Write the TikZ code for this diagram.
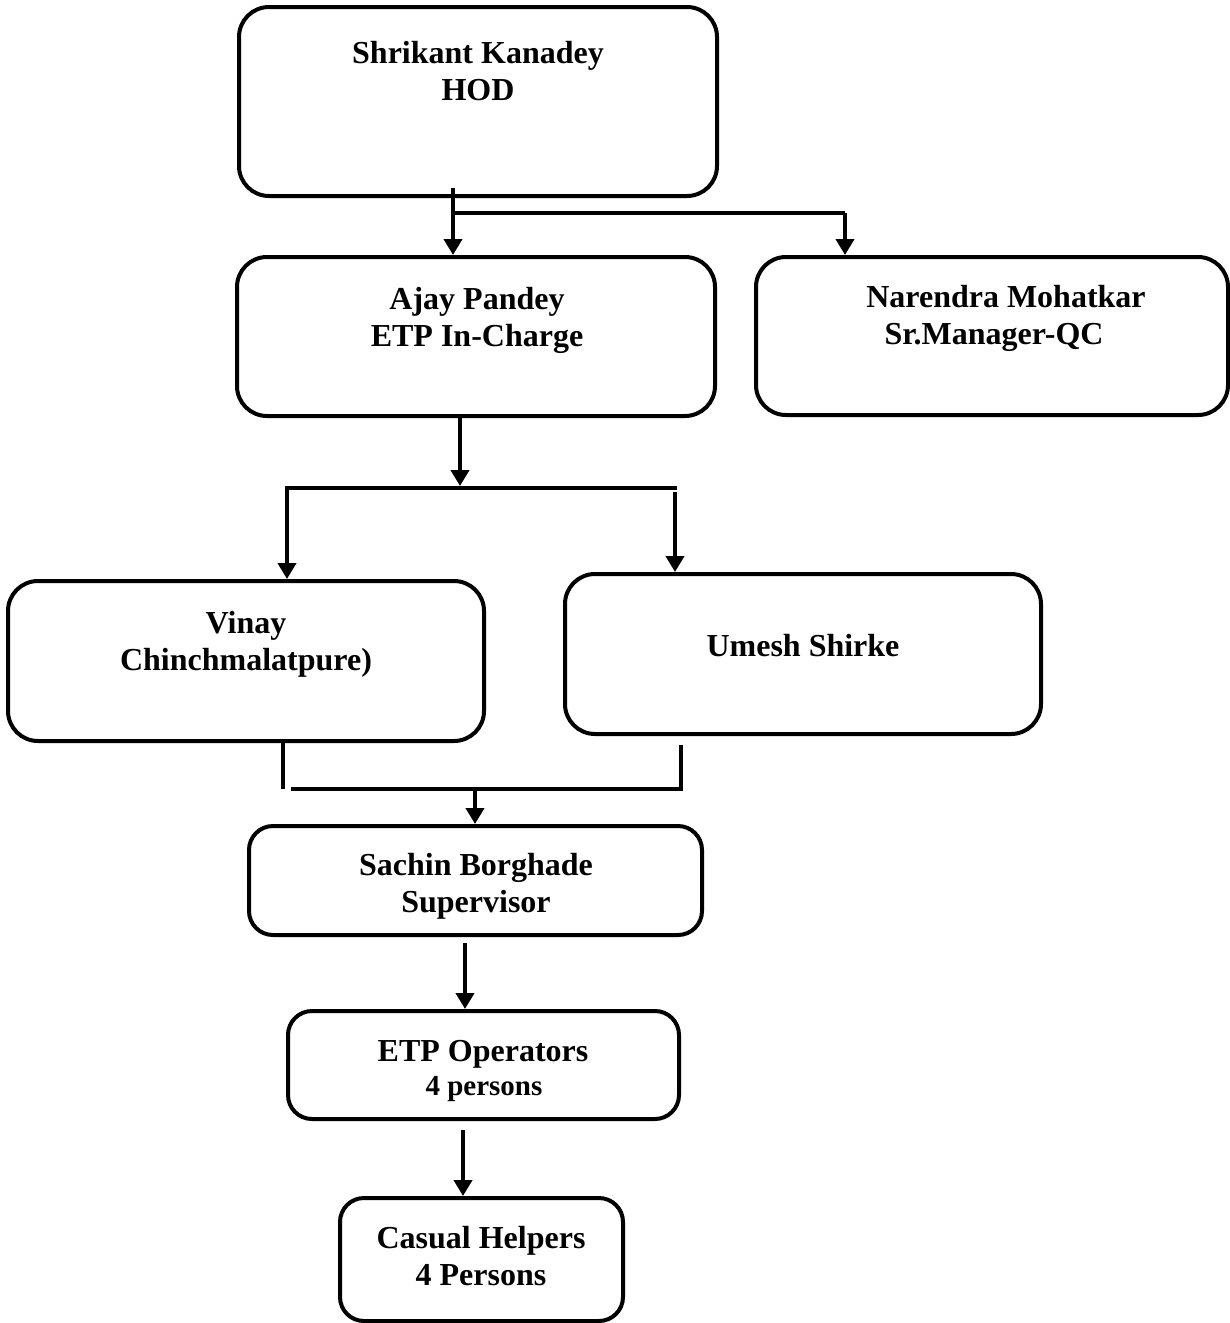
\documentclass[tikz,border=0pt]{standalone}
\usepackage{fontspec}
\setmainfont{Liberation Serif}
\usetikzlibrary{arrows.meta}
\begin{document}
\begin{tikzpicture}[x=0.5pt,y=-0.5pt,
  box/.style={draw,line width=2pt,rounded corners=15pt,inner sep=0pt},
  sbox/.style={draw,line width=2pt,rounded corners=12pt,inner sep=0pt},
  txt/.style={anchor=base,align=center,inner sep=0pt,font=\fontsize{16}{18.5}\selectfont\bfseries},
  ln/.style={line width=2pt},
  arr/.style={line width=2pt,-{Triangle[width=9pt,length=8pt]}}]
\useasboundingbox (0,0) rectangle (1230,1323);
% boxes
\node[box,minimum width=239pt,minimum height=94.5pt] (hod) at (478,101.5) {};
\node[box,minimum width=239pt,minimum height=79.5pt] (ajay) at (476,336.5) {};
\node[box,minimum width=236pt,minimum height=79pt] (nar) at (992,336) {};
\node[box,minimum width=238pt,minimum height=80pt] (vinay) at (246,661) {};
\node[box,minimum width=238pt,minimum height=80pt] (umesh) at (803,654) {};
\node[sbox,minimum width=226.5pt,minimum height=54.5pt] (sachin) at (475.5,880.5) {};
\node[sbox,minimum width=195.5pt,minimum height=54pt] (ops) at (483.5,1065) {};
\node[sbox,minimum width=141.5pt,minimum height=61.5pt] (cas) at (481.5,1259.5) {};
% texts (base anchor = baseline of last line)
\node[txt] (thod) at (478,100) {Shrikant Kanadey\\HOD};
\node[txt] (tajay) at (477,346) {Ajay Pandey\\ETP In-Charge};
\node[txt] (tnar) at (1006,344) {Narendra Mohatkar\\Sr.Manager-QC\kern12pt};
\node[txt] (tvinay) at (246,670) {Vinay\\Chinchmalatpure)};
\node[txt] (tumesh) at (803,656) {Umesh Shirke};
\node[txt] (tsachin) at (476,912) {Sachin Borghade\\Supervisor};
\node[txt] (tops) at (483,1061) {ETP Operators};
\node[txt,font=\fontsize{14.5}{16}\selectfont\bfseries] (tops2) at (484,1095) {4 persons};
\node[txt] (tcas) at (481,1285) {Casual Helpers\\4 Persons};
% connectors
\coordinate (c1) at (453,213);
\coordinate (c1b) at (455,213);
\coordinate (c2) at (845,213);
\draw[arr] ([yshift=5pt]hod.south -| c1) -- (c1 |- ajay.north);
\draw[ln] (c1b) -- (c2);
\draw[arr] (c2) -- (c2 |- nar.north);
\coordinate (c3) at (460,486);
\coordinate (c4) at (285,488);
\coordinate (c5) at (677,488);
\coordinate (c6) at (287,488);
\coordinate (c7) at (675,492);
\draw[arr] (c3 |- ajay.south) -- (c3);
\draw[ln] (c4) -- (c5);
\draw[arr] (c6) -- (c6 |- vinay.north);
\draw[arr] (c7) -- (c7 |- umesh.north);
\coordinate (d1) at (283,743);
\coordinate (d2) at (283,789);
\coordinate (d3) at (681,745);
\coordinate (d4) at (681,789);
\coordinate (d5) at (291,789);
\coordinate (d6) at (475,789);
\draw[ln] (d1) -- (d2);
\draw[ln] (d3) -- (d4) -- (d5);
\draw[arr] (d6) -- (d6 |- sachin.north);
\coordinate (e1) at (465,943);
\draw[arr] (e1) -- (e1 |- ops.north);
\coordinate (e2) at (463,1130);
\draw[arr] (e2) -- (e2 |- cas.north);
\end{tikzpicture}
\end{document}
